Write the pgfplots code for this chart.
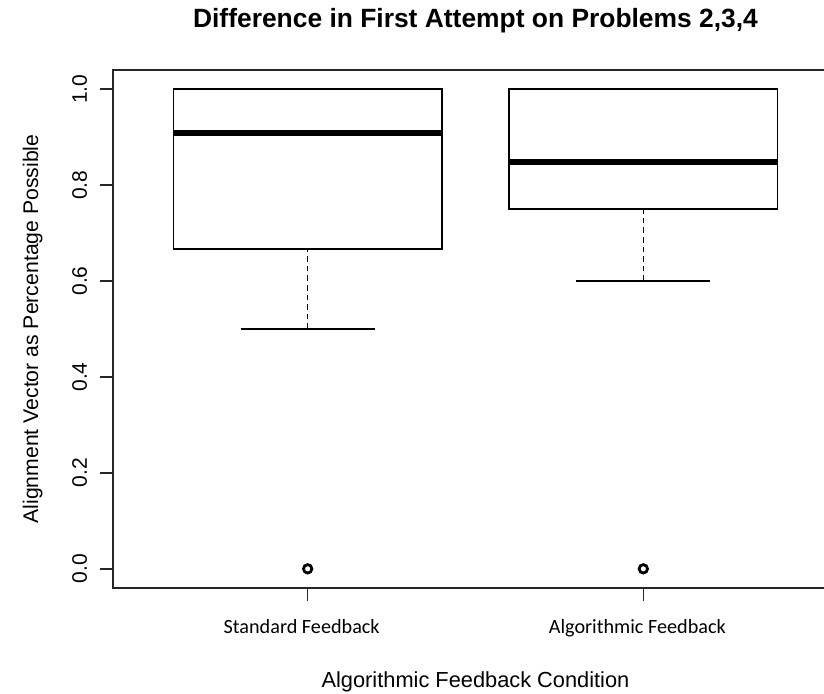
\documentclass[border=0pt]{standalone}
\usepackage{pgfplots}
\pgfplotsset{compat=1.18}
\usepgfplotslibrary{statistics}
\usepackage{fontspec}
\setmainfont{Liberation Sans}
\newfontfamily\carlito{Carlito}
\pgfplotsset{
  boxplot/draw/lower whisker/.code={
    \draw[dash pattern=on 2.8pt off 2pt]
      (boxplot cs:\pgfplotsboxplotvalue{lower whisker}) --
      (boxplot cs:\pgfplotsboxplotvalue{lower quartile});
    \draw (boxplot whisker cs:\pgfplotsboxplotvalue{lower whisker},0) --
      (boxplot whisker cs:\pgfplotsboxplotvalue{lower whisker},1);
  },
  boxplot/draw/median/.code={
    \draw[line width=2.7pt]
      (boxplot box cs:\pgfplotsboxplotvalue{median},0) --
      (boxplot box cs:\pgfplotsboxplotvalue{median},1);
  },
}
\begin{document}
\begin{tikzpicture}
\begin{axis}[
  scale only axis, width=362.5pt, height=259pt,
  xmin=0.42, xmax=2.58, ymin=-0.04, ymax=1.04,
  boxplot/draw direction=y,
  axis line style={black!85, line width=0.7pt},
  xtick={1,2}, xticklabels={Standard Feedback, Algorithmic Feedback},
  ytick={0,0.2,0.4,0.6,0.8,1}, yticklabels={0.0,0.2,0.4,0.6,0.8,1.0},
  tick pos=left, tick align=outside, major tick length=6.5pt,
  tick style={black!85, line width=0.7pt},
  xticklabel style={font=\carlito\fontsize{10.1}{12}\selectfont, anchor=base, yshift=-16pt, xshift=-3pt},
  yticklabel style={font=\fontsize{10.5}{12}\selectfont, xshift=-6.5pt, rotate=90, anchor=base},
  title={Difference in First Attempt on Problems 2,3,4},
  title style={font=\fontsize{13.2}{15}\selectfont\bfseries, at={(axis description cs:0.5,1.058)}, anchor=base},
  xlabel={Algorithmic Feedback Condition},
  xlabel style={font=\fontsize{10.9}{13}\selectfont, at={(axis description cs:0.5,-0.193)}, anchor=base},
  ylabel={Alignment Vector as Percentage Possible},
  ylabel style={font=\fontsize{10.6}{13}\selectfont, at={(axis description cs:-0.1034,0.5)}, anchor=base},
]
\addplot[black, line width=0.7pt, mark=o, mark size=2.1pt, mark options={line width=1.4pt, solid},
  boxplot prepared={draw position=1, lower whisker=0.5, lower quartile=0.667, median=0.909,
    upper quartile=1, upper whisker=1, box extend=0.8, whisker extend=0.4}]
  table[row sep=\\, y index=0] {y\\ 0\\};
\addplot[black, line width=0.7pt, mark=o, mark size=2.1pt, mark options={line width=1.4pt, solid},
  boxplot prepared={draw position=2, lower whisker=0.6, lower quartile=0.75, median=0.848,
    upper quartile=1, upper whisker=1, box extend=0.8, whisker extend=0.4}]
  table[row sep=\\, y index=0] {y\\ 0\\};
\end{axis}
\pgfresetboundingbox
\path[use as bounding box] (-56.5pt,-52.5pt) rectangle (355.5pt,294pt);
\end{tikzpicture}
\end{document}
